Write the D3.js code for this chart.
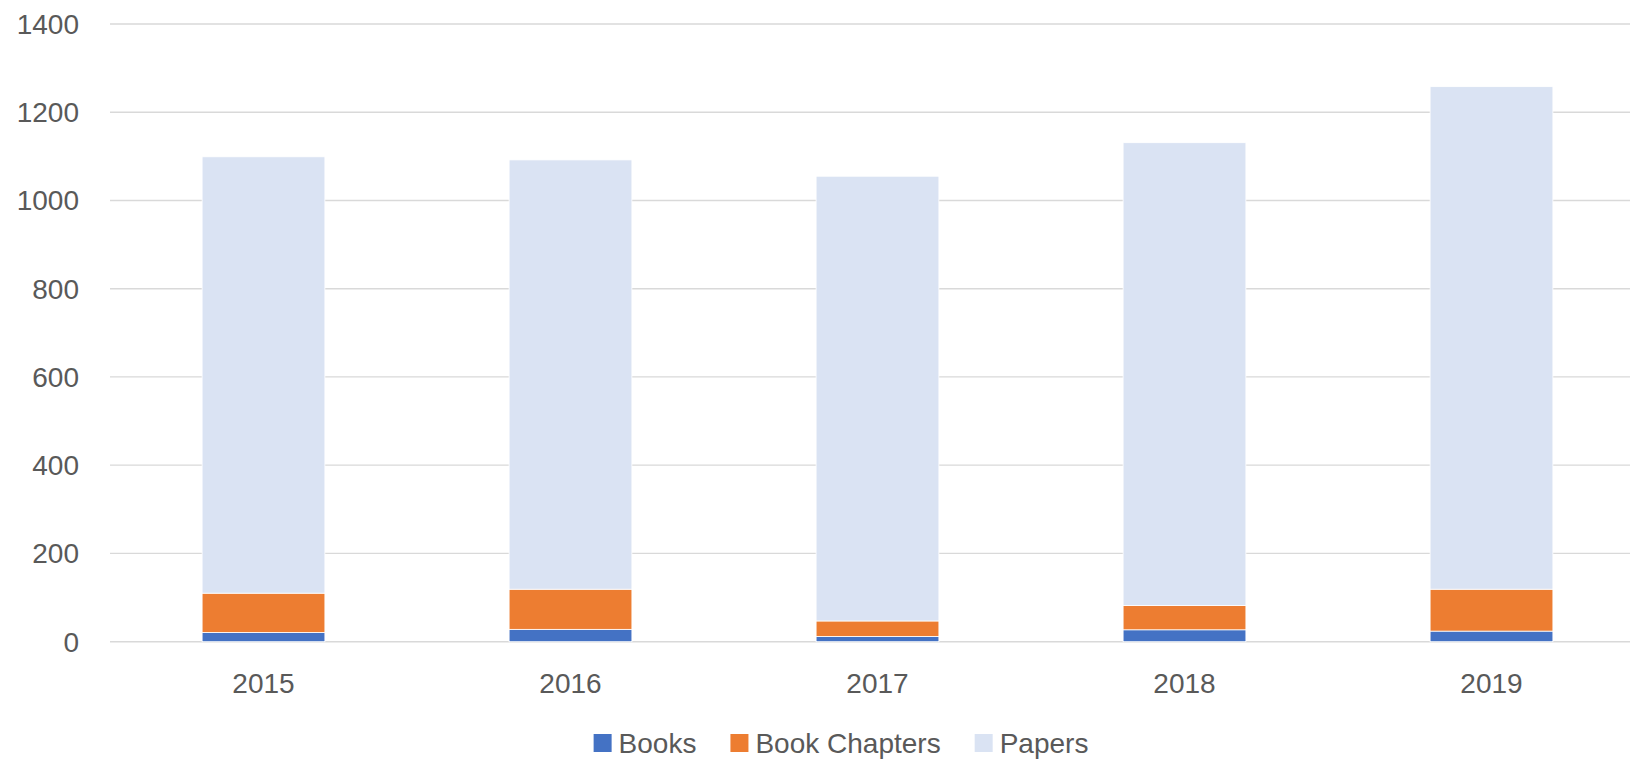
<!DOCTYPE html>
<html>
<head>
<meta charset="utf-8">
<script src="https://cdn.jsdelivr.net/npm/d3@7"></script>
<style>
  body { margin: 0; background: #fff; }
  text { font-family: "Liberation Sans", Arial, sans-serif; fill: #595959; }
</style>
</head>
<body>
<div id="chart"></div>
<script>
// data
var years = ["2015", "2016", "2017", "2018", "2019"];
var books = [21, 28, 12, 27, 24];
var chapters = [89, 91, 35, 55, 95];
var papers = [989, 973, 1008, 1049, 1139];
var seriesNames = ["Books", "Book Chapters", "Papers"];
var yTicks = [0, 200, 400, 600, 800, 1000, 1200, 1400];

var colors = ["#4472c4", "#ed7d31", "#dae3f3"];

var W = 1630, H = 761;
var margin = {top: 24, left: 110};
var plotW = 1535, plotH = 617.7;

var svg = d3.select("#chart").append("svg")
  .attr("width", W).attr("height", H);

var g = svg.append("g")
  .attr("transform", "translate(" + margin.left + "," + margin.top + ")");

var rows = years.map(function(y, i) {
  return {year: y, Books: books[i], "Book Chapters": chapters[i], Papers: papers[i]};
});

var x = d3.scaleBand().domain(years).range([0, plotW])
  .paddingInner(0.6).paddingOuter(0.3);
var y = d3.scaleLinear().domain([0, 1400]).range([plotH, 0]);

// grid lines
g.selectAll(".grid").data(yTicks).enter().append("line")
  .attr("x1", 0).attr("x2", plotW)
  .attr("y1", function(d) { return y(d); })
  .attr("y2", function(d) { return y(d); })
  .attr("stroke", "#d9d9d9")
  .attr("stroke-width", function(d) { return d === 0 ? 1.6 : 1.3; });

// y labels
g.selectAll(".ylab").data(yTicks).enter().append("text")
  .attr("x", -31)
  .attr("y", function(d) { return y(d); })
  .attr("dy", "0.35em")
  .attr("text-anchor", "end")
  .style("font-size", "28px")
  .text(function(d) { return d; });

// stacked bars
var stack = d3.stack().keys(seriesNames)(rows);
g.selectAll(".layer").data(stack).enter().append("g")
  .attr("fill", function(d, i) { return colors[i]; })
  .selectAll("rect").data(function(d) { return d; }).enter().append("rect")
    .attr("x", function(d) { return x(d.data.year); })
    .attr("y", function(d) { return y(d[1]); })
    .attr("width", x.bandwidth())
    .attr("height", function(d) { return y(d[0]) - y(d[1]); })
    .attr("stroke", "#ffffff")
    .attr("stroke-width", 0.8);

// x labels
g.selectAll(".xlab").data(years).enter().append("text")
  .attr("x", function(d) { return x(d) + x.bandwidth() / 2; })
  .attr("y", plotH + 41)
  .attr("dy", "0.35em")
  .attr("text-anchor", "middle")
  .style("font-size", "28px")
  .text(function(d) { return d; });

// legend
var legend = svg.append("g");
var items = legend.selectAll(".item").data(seriesNames).enter().append("g");
items.append("rect")
  .attr("width", 18).attr("height", 18)
  .attr("y", -9)
  .attr("fill", function(d, i) { return colors[i]; });
items.append("text")
  .attr("x", 25)
  .attr("dy", "0.35em")
  .style("font-size", "28px")
  .text(function(d) { return d; });

var pos = 0;
items.each(function() {
  var node = d3.select(this);
  node.attr("transform", "translate(" + pos + ",0)");
  pos += this.getBBox().width + 34;
});
pos -= 34;
legend.attr("transform", "translate(" + (841 - pos / 2) + ",743)");
</script>
</body>
</html>
